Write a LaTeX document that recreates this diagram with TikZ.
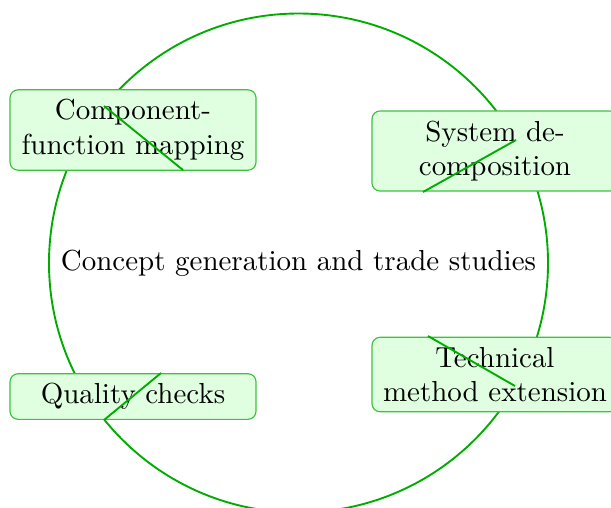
\documentclass[tikz,border=0pt]{standalone}
\usepackage{tikz}
\definecolor{ringgreen}{RGB}{0,172,0}
\definecolor{boxgreen}{RGB}{60,195,60}
\definecolor{boxfill}{RGB}{224,255,224}
\tikzset{
  ring/.style={circle, draw=ringgreen, line width=0.65pt, minimum size=499*0.3453pt, inner sep=0pt, font=\normalsize},
  stagebox/.style={rectangle, rounded corners=2.8pt, draw=boxgreen, line width=0.4pt, fill=boxfill,
    text width=78.3pt, align=center, inner sep=3.33pt},
  linkline/.style={draw=ringgreen, line width=0.65pt}
}
\begin{document}
\begin{tikzpicture}[x=0.3453pt, y=-0.3453pt]
\useasboundingbox (0,0) rectangle (611,507);
\clip (0,0) rectangle (611,507);
\node[ring] (c) at (298.5,263) {Concept generation and trade studies};
\node[stagebox] (n1) at (133,130) {Component-\\function mapping};
\node[stagebox] (n2) at (495,151) {System de-\\composition};
\node[stagebox] (n3) at (133,396.5) {Quality checks};
\node[stagebox] (n4) at (495,374.5) {Technical\\method extension};
\coordinate (a1) at (104,106);
\coordinate (b1) at (183,170);
\coordinate (a2) at (516,140);
\coordinate (b2) at (423,192);
\coordinate (a3) at (161,373);
\coordinate (b3) at (104,420);
\coordinate (a4) at (428,336);
\coordinate (b4) at (515,386);
\draw[linkline] (a1) -- (b1);
\draw[linkline] (a2) -- (b2);
\draw[linkline] (a3) -- (b3);
\draw[linkline] (a4) -- (b4);
\end{tikzpicture}
\end{document}
